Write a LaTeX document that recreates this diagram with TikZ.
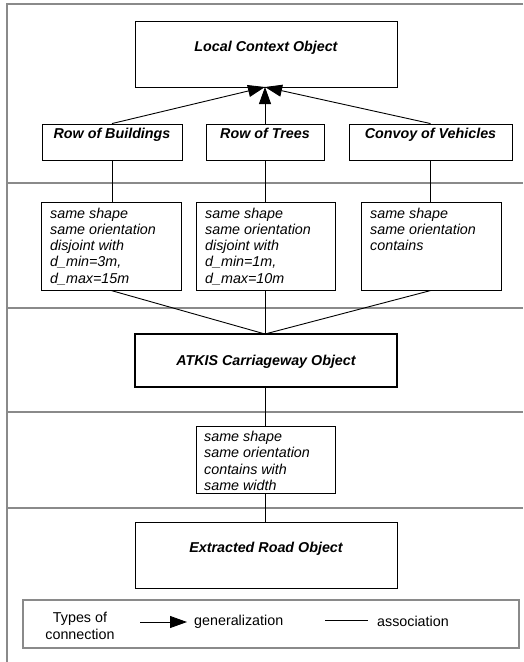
\documentclass[tikz,border=0pt]{standalone}
\usepackage{fontspec}
\setmainfont{Liberation Sans}
\usetikzlibrary{arrows.meta}
\definecolor{sepgray}{HTML}{8A8A8A}
\tikzset{
  box/.style={draw=black, line width=0.9pt, inner sep=0pt, fill=white},
  thickbox/.style={box, line width=2pt},
  title/.style={font=\fontsize{14.3}{16.5}\selectfont\bfseries\itshape, inner sep=0pt, anchor=base},
  cons/.style={font=\fontsize{14.3}{16.3}\selectfont\itshape, align=left, inner sep=0pt, anchor=north west},
  plain/.style={font=\fontsize{14.3}{16.5}\selectfont, inner sep=0pt},
  sep/.style={draw=sepgray, line width=2.4pt},
  conn/.style={draw=black, line width=0.9pt},
  gen/.style={conn, -{Triangle[length=17pt,width=12pt]}},
}
\begin{document}
\begin{tikzpicture}[x=1pt,y=-1pt]
\useasboundingbox (0,0) rectangle (523,662);
% frame and separators
\coordinate (ftl) at (7,4);
\coordinate (ftr) at (523,4);
\coordinate (fbl) at (7,662);
\draw[sep] (ftr) -- (ftl) -- (fbl);
\foreach \yy in {183,308,412,508} \draw[sep] (7,\yy) -- (523,\yy);
% object boxes
\node[box, minimum width=262pt, minimum height=66pt] (lco) at (266,54) {};
\node[title] (lcot) at (266,51) {Local Context Object};
\node[box, minimum width=140pt, minimum height=36pt] (rb) at (112,142) {};
\node[title] (rbt) at (112,138) {Row of Buildings};
\node[box, minimum width=118pt, minimum height=36pt] (rt) at (265,142) {};
\node[title] (rtt) at (265,138) {Row of Trees};
\node[box, minimum width=163pt, minimum height=36pt] (cv) at (430.5,142) {};
\node[title] (cvt) at (430.5,138) {Convoy of Vehicles};
% constraint boxes
\node[box, minimum width=140pt, minimum height=88pt] (c1) at (111,246) {};
\node[cons] (c1t) at (50,207.5) {same shape\\same orientation\\disjoint with\\d\_min=3m,\\d\_max=15m};
\node[box, minimum width=139pt, minimum height=88pt] (c2) at (265.5,246) {};
\node[cons] (c2t) at (205,207.5) {same shape\\same orientation\\disjoint with\\d\_min=1m,\\d\_max=10m};
\node[box, minimum width=140pt, minimum height=88pt] (c3) at (431,246) {};
\node[cons] (c3t) at (370,207.5) {same shape\\same orientation\\contains};
\node[thickbox, minimum width=262pt, minimum height=53pt] (atk) at (266,360.5) {};
\node[title] (atkt) at (266,365) {ATKIS Carriageway Object};
\node[box, minimum width=139pt, minimum height=67pt] (c4) at (265.5,459.5) {};
\node[cons] (c4t) at (204,431) {same shape\\same orientation\\contains with\\same width};
\node[box, minimum width=262pt, minimum height=66pt] (ero) at (266,555) {};
\node[title] (erot) at (266,552) {Extracted Road Object};
% connectors
\coordinate (tip) at (265,87);
\draw[gen] (rb.north) -- (tip);
\draw[gen] (rt.north) -- (tip);
\draw[gen] (cv.north) -- (tip);
\draw[conn] (rb.south) -- (rb.south |- c1.north);
\draw[conn] (rt.south) -- (rt.south |- c2.north);
\draw[conn] (cv.south) -- (cv.south |- c3.north);
\coordinate (atop) at (265,334);
\draw[conn] (c1.south) -- (atop);
\draw[conn] (c2.south -| atop) -- (atop);
\draw[conn] (c3.south) -- (atop);
\draw[conn] (atop |- atk.south) -- (atop |- c4.north);
\draw[conn] (atop |- c4.south) -- (atop |- ero.north);
% legend
\node[draw=sepgray, line width=1.6pt, minimum width=496pt, minimum height=48pt, inner sep=0pt] (leg) at (271,624) {};
\node[plain, align=center] (legt) at (80,626) {Types of\\connection};
\coordinate (ga) at (140,622);
\coordinate (gb) at (187,622);
\draw[gen] (ga) -- (gb);
\node[plain, anchor=west] (gent) at (194,622) {generalization};
\coordinate (aa) at (325,620);
\coordinate (ab) at (368,620);
\draw[conn] (aa) -- (ab);
\node[plain, anchor=west] (asst) at (377,621) {association};
\end{tikzpicture}
\end{document}
